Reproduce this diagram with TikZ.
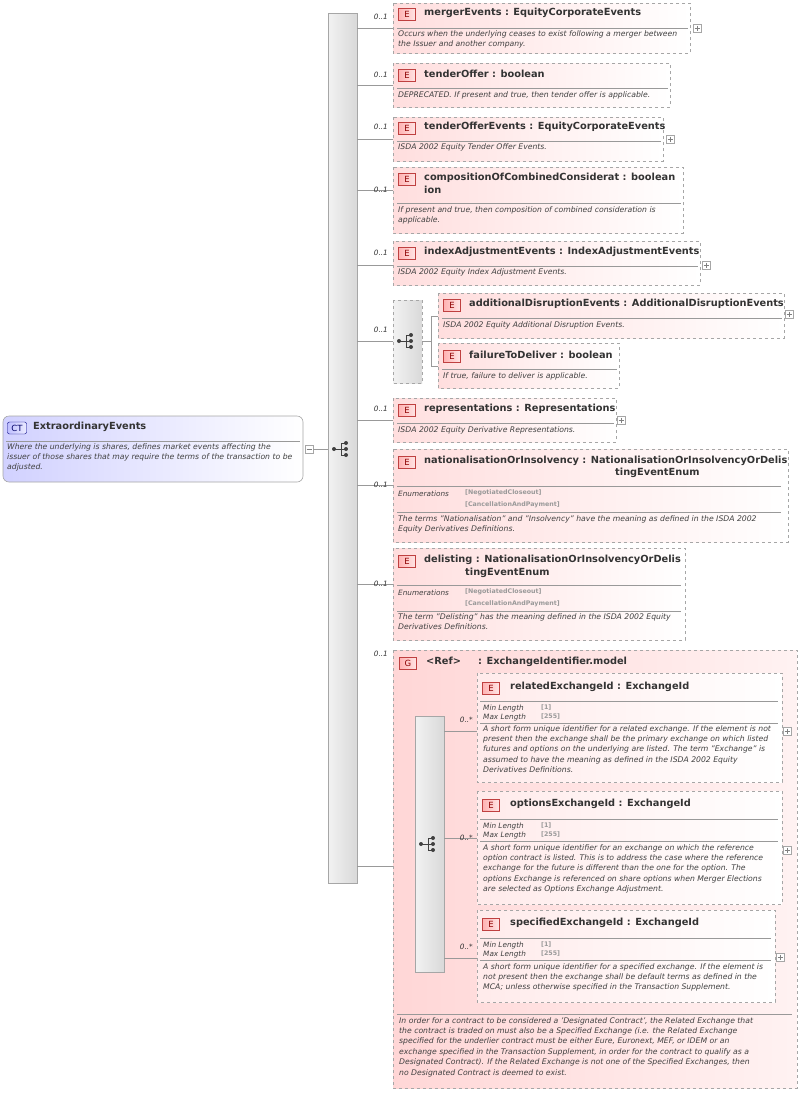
\documentclass[tikz,border=0pt]{standalone}
\usepackage{fontspec}
\setmainfont{DejaVu Sans}
\begin{document}
\begin{tikzpicture}[x=1pt,y=-1pt,
    elbox/.style={draw=gray!70,dashed,left color=red!13,right color=white,line width=0.6pt},
    badge/.style={draw=red!50!gray,left color=red!30,right color=red!10,inner sep=1pt,minimum width=17pt,minimum height=12pt,font=\fontsize{8.5}{9}\selectfont,text=red!55!black},
    ttl/.style={anchor=west,inner sep=0pt,font=\fontsize{9.8}{10}\selectfont\bfseries,text=black!80},
    dsc/.style={anchor=north west,inner sep=0pt,align=left,font=\fontsize{7.7}{10.4}\selectfont\itshape,text=black!75},
    mult/.style={anchor=east,inner sep=0pt,font=\fontsize{7.3}{8}\selectfont\itshape,text=black!80},
    lbl/.style={anchor=west,inner sep=0pt,font=\fontsize{7.3}{8}\selectfont\itshape,text=black!75},
    enm/.style={anchor=west,inner sep=0pt,font=\fontsize{6.3}{7}\selectfont\bfseries,text=gray!80},
    link/.style={draw=gray!80,line width=0.5pt}]
\useasboundingbox (0,0) rectangle (802,1093);

% macros for repeated parts
\newcommand\sepline[3]{\draw[gray!80,line width=0.5pt] (#1,#3) -- (#2,#3);}
\newcommand\plusbox[2]{\draw[gray!70,fill=white] (#1-4,#2-4) rectangle (#1+4,#2+4);
  \draw[gray] (#1-2.5,#2) -- (#1+2.5,#2) (#1,#2-2.5) -- (#1,#2+2.5);}
\newcommand\seqicon[2]{\fill[black!75] (#1-7,#2) circle (2);
  \draw[black!75,line width=1pt] (#1-7,#2) -- (#1,#2) (#1,#2-6) -- (#1,#2+6)
    (#1,#2-6) -- (#1+5,#2-6) (#1,#2+6) -- (#1+5,#2+6) (#1,#2) -- (#1+5,#2);
  \foreach \dy in {-6,0,6} \fill[black!75] (#1+5,#2+\dy) circle (2);}

% complex type
\draw[gray!70,rounded corners=6pt,left color=blue!18,right color=white,line width=0.6pt] (3,416) rectangle (303,482);
\node[draw=blue!50!black,left color=blue!25,right color=blue!8,rounded corners=2pt,inner sep=1pt,minimum width=19pt,minimum height=12pt,font=\fontsize{8.5}{9}\selectfont,text=blue!40!black] (ct) at (17,428) {CT};
\node[ttl] (ctname) at (33,427) {ExtraordinaryEvents};
\sepline{6}{300}{441}
\node[dsc] (ctdesc) at (7,443) {Where the underlying is shares, defines market events affecting the\\issuer of those shares that may require the terms of the transaction to be\\adjusted.};
\draw[gray!70,fill=white] (305,445) rectangle (313,453); \draw[gray] (306.5,449) -- (311.5,449);
\draw[link] (313,449) -- (328,449);

% main sequence
\draw[gray!70,left color=gray!10,right color=gray!30,line width=0.6pt] (328,13) rectangle (357,883);
\seqicon{341}{449}

% connectors from sequence
\foreach \yy in {28,85,139,190,265,341,420,485,584,866}
  \draw[link] (357,\yy) -- (393,\yy);
\foreach \yy/\lab in {17/0..1,75/0..1,127/0..1,190/0..1,253/0..1,330/0..1,409/0..1,485/0..1,584/0..1,654/0..1}
  \node[mult] at (388,\yy) {\lab};

% mergerEvents
\draw[elbox] (393,3) rectangle (690,53);
\node[badge] at (407,14) {E};
\node[ttl] at (424,13) {mergerEvents : EquityCorporateEvents};
\sepline{397}{688}{28}
\node[dsc] at (398,30) {Occurs when the underlying ceases to exist following a merger between\\the Issuer and another company.};
\plusbox{697}{28}

% tenderOffer
\draw[elbox] (393,63) rectangle (670,107);
\node[badge] at (407,75) {E};
\node[ttl] at (424,74) {tenderOffer : boolean};
\sepline{397}{668}{88}
\node[dsc] at (398,91) {DEPRECATED. If present and true, then tender offer is applicable.};

% tenderOfferEvents
\draw[elbox] (393,117) rectangle (663,161);
\node[badge] at (407,128) {E};
\node[ttl] at (424,127) {tenderOfferEvents : EquityCorporateEvents};
\sepline{397}{661}{141}
\node[dsc] at (398,143) {ISDA 2002 Equity Tender Offer Events.};
\plusbox{670}{139}

% compositionOfCombinedConsideration
\draw[elbox] (393,167) rectangle (683,233);
\node[badge] at (407,179) {E};
\node[ttl] at (424,178) {compositionOfCombinedConsiderat : boolean};
\node[ttl] at (424,190) {ion};
\sepline{397}{681}{203}
\node[dsc] at (398,206) {If present and true, then composition of combined consideration is\\applicable.};

% indexAdjustmentEvents
\draw[elbox] (393,241) rectangle (700,285);
\node[badge] at (407,253) {E};
\node[ttl] at (424,252) {indexAdjustmentEvents : IndexAdjustmentEvents};
\sepline{397}{698}{266}
\node[dsc] at (398,268) {ISDA 2002 Equity Index Adjustment Events.};
\plusbox{706}{265}

% choice
\draw[gray!70,dashed,left color=gray!10,right color=gray!30,line width=0.6pt] (393,300) rectangle (422,383);
\seqicon{406}{341}
\draw[link] (422,341) -- (431,341) (431,316) -- (431,366) (431,316) -- (438,316) (431,366) -- (438,366);

% additionalDisruptionEvents
\draw[elbox] (438,293) rectangle (784,338);
\node[badge] at (452,305) {E};
\node[ttl] at (469,304) {additionalDisruptionEvents : AdditionalDisruptionEvents};
\sepline{442}{782}{318}
\node[dsc] at (443,321) {ISDA 2002 Equity Additional Disruption Events.};
\plusbox{789}{314}

% failureToDeliver
\draw[elbox] (438,343) rectangle (619,388);
\node[badge] at (452,356) {E};
\node[ttl] at (469,355) {failureToDeliver : boolean};
\sepline{442}{617}{369}
\node[dsc] at (443,372) {If true, failure to deliver is applicable.};

% representations
\draw[elbox] (393,398) rectangle (616,442);
\node[badge] at (407,410) {E};
\node[ttl] at (424,409) {representations : Representations};
\sepline{397}{614}{423}
\node[dsc] at (398,426) {ISDA 2002 Equity Derivative Representations.};
\plusbox{621}{420}

% nationalisationOrInsolvency
\draw[elbox] (393,449) rectangle (788,542);
\node[badge] at (407,462) {E};
\node[ttl] at (424,461) {nationalisationOrInsolvency : NationalisationOrInsolvencyOrDelis};
\node[ttl] at (615,473) {tingEventEnum};
\sepline{397}{781}{486}
\node[lbl] at (398,494) {Enumerations};
\node[enm] at (465,493) {[NegotiatedCloseout]};
\node[enm] at (465,505) {[CancellationAndPayment]};
\sepline{397}{781}{512}
\node[dsc] at (398,515) {The terms "Nationalisation" and "Insolvency" have the meaning as defined in the ISDA 2002\\Equity Derivatives Definitions.};

% delisting
\draw[elbox] (393,548) rectangle (685,640);
\node[badge] at (407,561) {E};
\node[ttl] at (424,560) {delisting : NationalisationOrInsolvencyOrDelis};
\node[ttl] at (465,573) {tingEventEnum};
\sepline{397}{681}{585}
\node[lbl] at (398,593) {Enumerations};
\node[enm] at (465,592) {[NegotiatedCloseout]};
\node[enm] at (465,604) {[CancellationAndPayment]};
\sepline{397}{681}{611}
\node[dsc] at (398,613) {The term "Delisting" has the meaning defined in the ISDA 2002 Equity\\Derivatives Definitions.};

% group
\draw[elbox,left color=red!16,right color=red!5] (393,650) rectangle (797,1088);
\node[badge] at (408,663) {G};
\node[ttl] at (426,661) {<Ref>};
\node[ttl] at (478,662) {: ExchangeIdentifier.model};
\draw[gray!70,left color=gray!10,right color=gray!30,line width=0.6pt] (415,716) rectangle (444,972);
\seqicon{428}{844}
\foreach \yy in {731,838,958} \draw[link] (444,\yy) -- (477,\yy);
\foreach \yy in {720,838,947} \node[mult] at (473,\yy) {0..*};

% relatedExchangeId
\draw[elbox,left color=red!8,right color=white] (477,673) rectangle (782,782);
\node[badge] at (491,688) {E};
\node[ttl] at (510,687) {relatedExchangeId : ExchangeId};
\sepline{480}{778}{701}
\node[lbl] at (483,708) {Min Length};
\node[lbl] at (483,717) {Max Length};
\node[enm] at (541,708) {[1]};
\node[enm] at (541,717) {[255]};
\sepline{480}{778}{723}
\node[dsc] at (483,725) {A short form unique identifier for a related exchange. If the element is not\\present then the exchange shall be the primary exchange on which listed\\futures and options on the underlying are listed. The term "Exchange" is\\assumed to have the meaning as defined in the ISDA 2002 Equity\\Derivatives Definitions.};
\plusbox{787}{731}

% optionsExchangeId
\draw[elbox,left color=red!8,right color=white] (477,791) rectangle (782,904);
\node[badge] at (491,805) {E};
\node[ttl] at (510,804) {optionsExchangeId : ExchangeId};
\sepline{480}{778}{819}
\node[lbl] at (483,826) {Min Length};
\node[lbl] at (483,835) {Max Length};
\node[enm] at (541,826) {[1]};
\node[enm] at (541,835) {[255]};
\sepline{480}{778}{841}
\node[dsc] at (483,844) {A short form unique identifier for an exchange on which the reference\\option contract is listed. This is to address the case where the reference\\exchange for the future is different than the one for the option. The\\options Exchange is referenced on share options when Merger Elections\\are selected as Options Exchange Adjustment.};
\plusbox{787}{850}

% specifiedExchangeId
\draw[elbox,left color=red!8,right color=white] (477,910) rectangle (775,1002);
\node[badge] at (491,924) {E};
\node[ttl] at (510,923) {specifiedExchangeId : ExchangeId};
\sepline{480}{771}{938}
\node[lbl] at (483,945) {Min Length};
\node[lbl] at (483,954) {Max Length};
\node[enm] at (541,945) {[1]};
\node[enm] at (541,954) {[255]};
\sepline{480}{771}{960}
\node[dsc] at (483,963) {A short form unique identifier for a specified exchange. If the element is\\not present then the exchange shall be default terms as defined in the\\MCA; unless otherwise specified in the Transaction Supplement.};
\plusbox{780}{957}

% group description
\sepline{397}{792}{1014}
\node[dsc] at (399,1017) {In order for a contract to be considered a 'Designated Contract', the Related Exchange that\\the contract is traded on must also be a Specified Exchange (i.e. the Related Exchange\\specified for the underlier contract must be either Eure, Euronext, MEF, or IDEM or an\\exchange specified in the Transaction Supplement, in order for the contract to qualify as a\\Designated Contract). If the Related Exchange is not one of the Specified Exchanges, then\\no Designated Contract is deemed to exist.};
\end{tikzpicture}
\end{document}
